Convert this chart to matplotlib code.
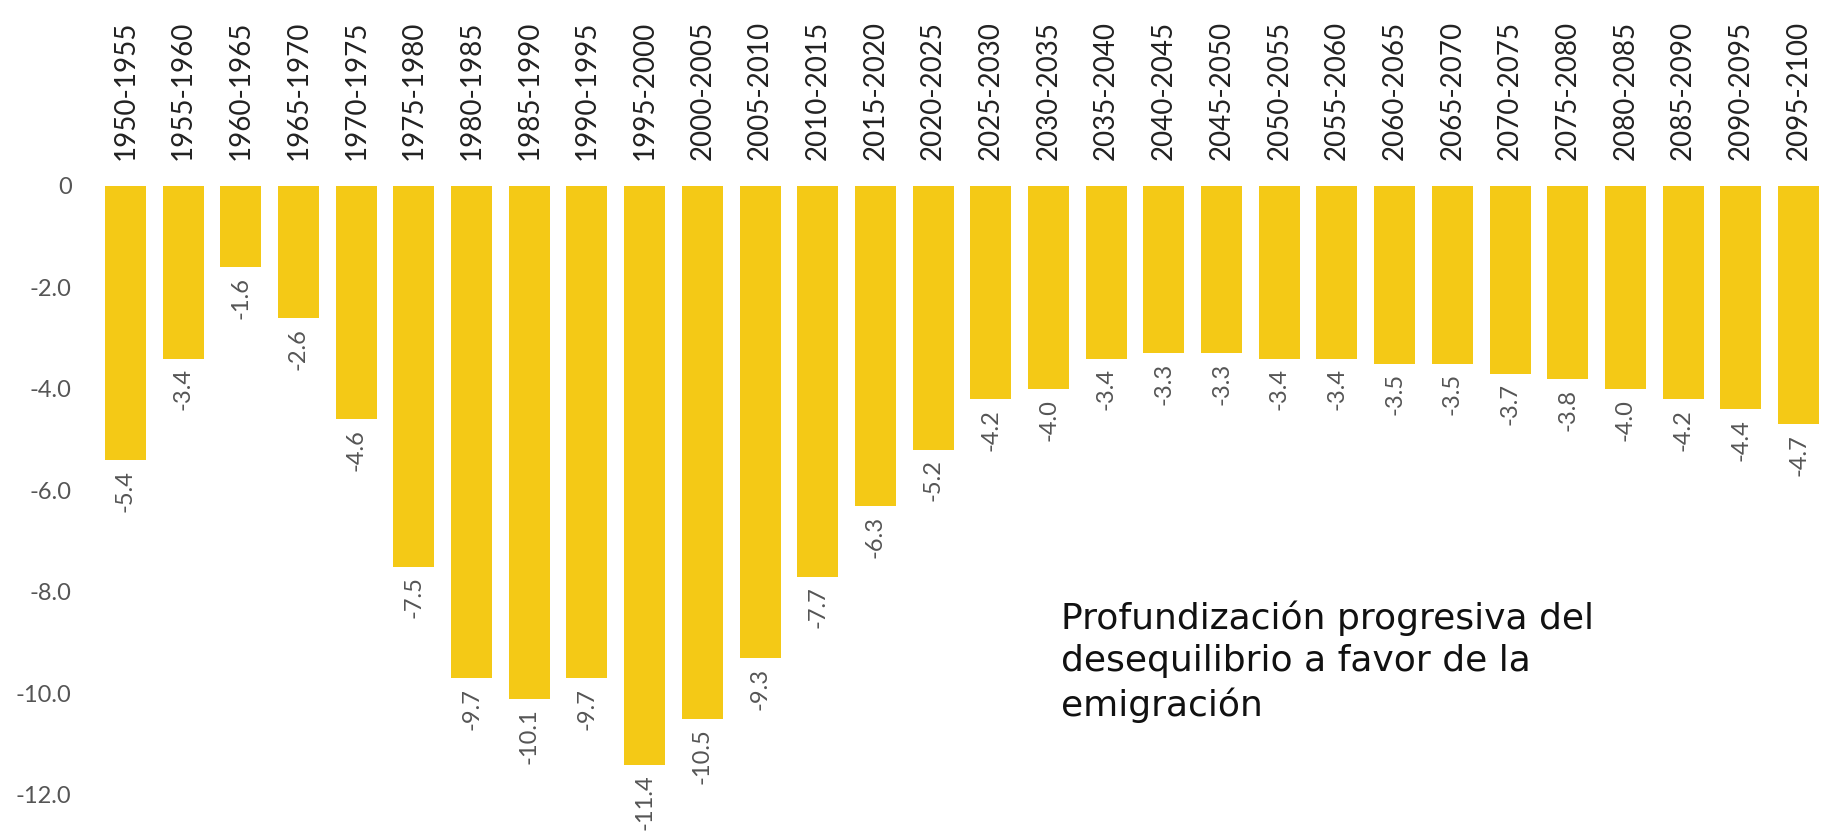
import matplotlib.pyplot as plt

periods = ['1950-1955', '1955-1960', '1960-1965', '1965-1970', '1970-1975',
           '1975-1980', '1980-1985', '1985-1990', '1990-1995', '1995-2000',
           '2000-2005', '2005-2010', '2010-2015', '2015-2020', '2020-2025',
           '2025-2030', '2030-2035', '2035-2040', '2040-2045', '2045-2050',
           '2050-2055', '2055-2060', '2060-2065', '2065-2070', '2070-2075',
           '2075-2080', '2080-2085', '2085-2090', '2090-2095', '2095-2100']
saldo = [-5.4, -3.4, -1.6, -2.6, -4.6, -7.5, -9.7, -10.1, -9.7, -11.4,
         -10.5, -9.3, -7.7, -6.3, -5.2, -4.2, -4.0, -3.4, -3.3, -3.3,
         -3.4, -3.4, -3.5, -3.5, -3.7, -3.8, -4.0, -4.2, -4.4, -4.7]
yticks = [0, -2, -4, -6, -8, -10, -12]
ytick_labels = ['0', '-2.0', '-4.0', '-6.0', '-8.0', '-10.0', '-12.0']
nota = 'Profundización progresiva del\ndesequilibrio a favor de la\nemigración'

plt.rcParams['font.family'] = ['Lato', 'DejaVu Sans']

fig = plt.figure(figsize=(18.29, 8.32), dpi=100)
ax = fig.add_axes([0.0528, 0.0079, 0.9463, 0.7686])

x = list(range(len(periods)))
ax.bar(x, saldo, width=0.71, color='#F4C916')

# etiquetas de valor bajo cada barra
for xi, v in zip(x, saldo):
    ax.annotate('%.1f' % v, (xi, v), xytext=(0, -7), textcoords='offset points',
                rotation=90, ha='center', va='top', fontsize=17, color='#555555')

ax.set_xlim(-0.5, 29.5)
ax.set_ylim(-12.6, 0)
ax.xaxis.tick_top()
ax.set_xticks(x)
ax.set_xticklabels(periods, rotation=90, fontsize=20, color='#222222')
ax.set_yticks(yticks)
ax.set_yticklabels(ytick_labels, fontsize=17, color='#555555')
ax.tick_params(axis='x', length=0, pad=19)
ax.tick_params(axis='y', length=0, pad=18)
for s in ax.spines.values():
    s.set_visible(False)

fig.text(1061 / 1829, 1 - 600 / 832, nota, fontsize=26, color='#111111',
         ha='left', va='top', linespacing=1.32, family=['DejaVu Sans'])

fig.savefig('out.png', dpi=100)
